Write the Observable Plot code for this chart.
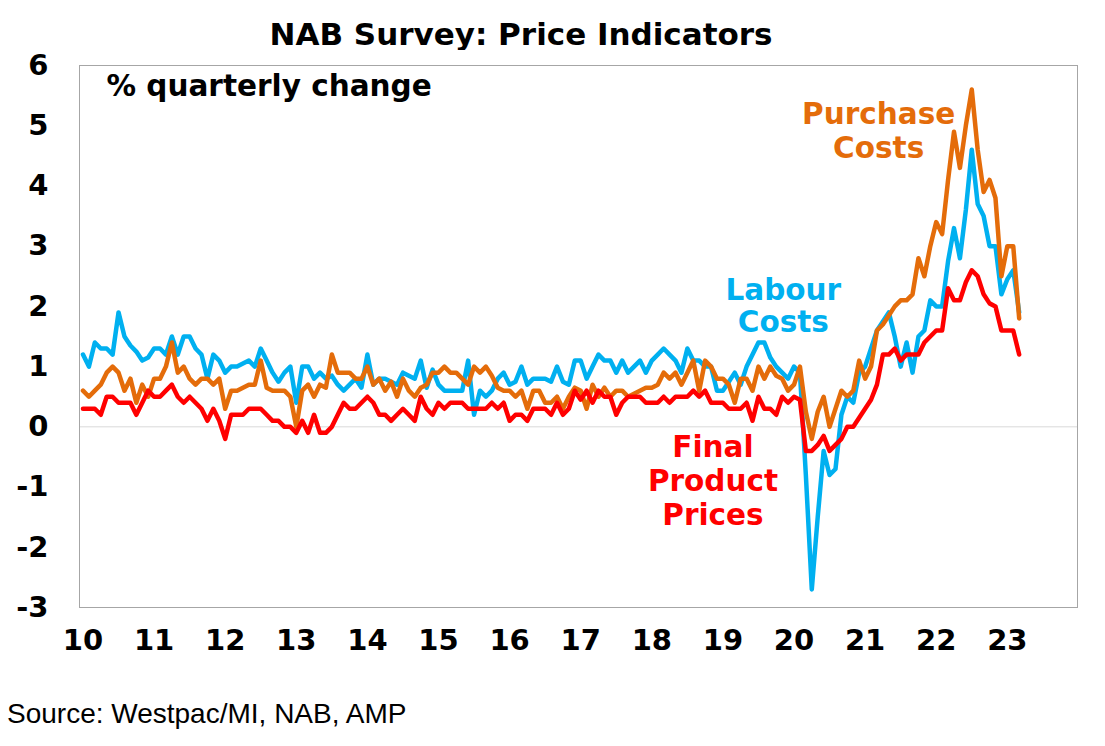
<!DOCTYPE html>
<html>
<head>
<meta charset="utf-8">
<script src="https://cdn.jsdelivr.net/npm/d3@7"></script>
<script src="https://cdn.jsdelivr.net/npm/@observablehq/plot@0.6"></script>
<style>
  body { margin: 0; background: #fff; }
  #wrap { position: relative; width: 1105px; height: 746px; overflow: hidden; background: #fff; }
  #title { position: absolute; left: 0; top: 19px; width: 1042px; text-align: center;
           font: bold 31px/31px "DejaVu Sans", sans-serif; color: #000; white-space: nowrap; }
  #chart { position: absolute; left: 0; top: 50px; }
  #source { position: absolute; left: 7px; top: 700px;
            font: 28px/28px "Liberation Sans", Arial, sans-serif; color: #000; white-space: nowrap; }
</style>
</head>
<body>
<div id="wrap">
  <div id="title">NAB Survey: Price Indicators</div>
  <div id="chart"></div>
  <div id="source">Source: Westpac/MI, NAB, AMP</div>
</div>
<script>
// Monthly readings, first value = January 2010
const startYear = 2010;

const labour = [
  1.2,1.0,1.4,1.3,1.3,1.2,1.9,1.5,1.35,1.25,
  1.1,1.15,1.3,1.3,1.2,1.5,1.2,1.5,1.5,1.3,
  1.2,0.8,1.2,1.1,0.9,1.0,1.0,1.05,1.1,1.0,
  1.3,1.1,0.9,0.75,0.9,1.0,0.4,1.0,1.0,0.8,
  0.9,0.8,0.85,0.7,0.6,0.7,0.8,0.65,1.2,0.7,
  0.8,0.8,0.75,0.7,0.9,0.85,0.8,1.1,0.65,0.95,
  0.7,0.6,0.6,0.6,0.6,1.1,0.2,0.6,0.5,0.6,
  0.8,0.9,0.7,0.75,1.0,0.7,0.8,0.8,0.8,0.75,
  1.0,0.75,0.7,1.1,1.1,0.8,1.0,1.2,1.1,1.1,
  0.9,1.1,0.9,1.0,1.1,0.9,1.1,1.2,1.3,1.2,
  1.1,0.9,1.3,1.1,1.1,1.0,1.0,0.6,0.6,0.75,
  0.9,0.7,1.0,1.2,1.4,1.4,1.15,1.0,0.9,0.8,
  1.0,0.9,-0.8,-2.7,-1.5,-0.4,-0.8,-0.7,0.2,0.5,
  0.4,0.9,1.0,1.3,1.6,1.75,1.9,1.5,1.0,1.4,
  0.9,1.5,1.6,2.1,2.0,2.0,2.75,3.3,2.8,3.6,
  4.6,3.7,3.5,3.0,3.0,2.2,2.45,2.6,1.9
];

const purchase = [
  0.6,0.5,0.6,0.7,0.9,1.0,0.9,0.6,0.8,0.4,
  0.7,0.5,0.8,0.8,1.0,1.4,0.9,1.0,0.8,0.7,
  0.8,0.8,0.7,0.8,0.3,0.6,0.6,0.65,0.7,0.7,
  1.1,0.65,0.6,0.6,0.6,0.5,0.0,0.6,0.7,0.5,
  0.7,0.65,1.2,0.9,0.9,0.9,0.8,0.8,1.0,0.7,
  0.8,0.6,0.75,0.5,0.8,0.6,0.5,0.65,0.7,0.9,
  0.9,1.0,0.9,0.9,0.8,0.7,1.0,0.9,1.0,0.85,
  0.65,0.6,0.6,0.5,0.6,0.3,0.6,0.6,0.4,0.4,
  0.5,0.3,0.5,0.65,0.6,0.3,0.7,0.5,0.65,0.5,
  0.6,0.6,0.5,0.55,0.6,0.65,0.65,0.7,0.9,0.8,
  0.9,0.7,0.9,1.1,0.6,1.1,1.0,0.8,0.8,0.7,
  0.4,0.8,0.8,0.6,1.0,0.8,1.0,0.85,0.8,0.6,
  0.7,1.0,0.25,-0.2,0.25,0.5,0.0,0.3,0.6,0.5,
  0.6,1.1,0.8,1.0,1.6,1.7,1.85,2.0,2.1,2.1,
  2.2,2.8,2.5,3.0,3.4,3.2,4.1,4.9,4.3,5.0,
  5.6,4.6,3.9,4.1,3.8,2.5,3.0,3.0,1.8
];

const finalPrices = [
  0.3,0.3,0.3,0.2,0.5,0.5,0.4,0.4,0.4,0.2,
  0.4,0.6,0.5,0.5,0.6,0.7,0.5,0.4,0.5,0.4,
  0.3,0.1,0.3,0.1,-0.2,0.2,0.2,0.2,0.3,0.3,
  0.3,0.2,0.1,0.1,0.0,0.0,-0.1,0.1,-0.1,0.2,
  -0.1,-0.1,0.0,0.2,0.4,0.3,0.3,0.4,0.5,0.4,
  0.2,0.2,0.1,0.2,0.3,0.2,0.1,0.5,0.3,0.2,
  0.4,0.3,0.4,0.4,0.4,0.3,0.3,0.3,0.3,0.4,
  0.3,0.4,0.1,0.2,0.2,0.1,0.3,0.3,0.3,0.2,
  0.4,0.2,0.3,0.6,0.45,0.6,0.4,0.6,0.5,0.5,
  0.2,0.4,0.5,0.5,0.5,0.4,0.4,0.4,0.5,0.4,
  0.5,0.5,0.5,0.6,0.5,0.6,0.4,0.4,0.4,0.3,
  0.3,0.3,0.4,0.1,0.5,0.3,0.3,0.2,0.5,0.4,
  0.5,0.45,-0.4,-0.4,-0.3,-0.15,-0.4,-0.3,-0.2,0.0,
  0.0,0.15,0.3,0.45,0.7,1.2,1.2,1.3,1.1,1.2,
  1.2,1.2,1.4,1.5,1.6,1.6,2.3,2.1,2.1,2.4,
  2.6,2.5,2.2,2.05,2.0,1.6,1.6,1.6,1.2
];

const seriesNames = ["Labour Costs", "Purchase Costs", "Final Product Prices"];
const seriesColors = ["#00B0F0", "#E46C0A", "#FF0000"];

const yTicks = [-3, -2, -1, 0, 1, 2, 3, 4, 5, 6];
const yTickLabels = ["-3", "-2", "-1", "0", "1", "2", "3", "4", "5", "6"];
const xTickYears = [2010, 2011, 2012, 2013, 2014, 2015, 2016, 2017, 2018, 2019, 2020, 2021, 2022, 2023];
const xTickLabels = ["10", "11", "12", "13", "14", "15", "16", "17", "18", "19", "20", "21", "22", "23"];

// Label anchor points in data coordinates (year, value)
const labelTexts = ["Labour\nCosts", "Purchase\nCosts", "Final\nProduct\nPrices"];
const labelYears = [2019.85, 2021.19, 2018.86];
const labelValues = [2.01, 4.92, -0.885];
const labelLineHeights = [1.08, 1.15, 1.14];

const unitLabel = "% quarterly change";

const rows = [labour, purchase, finalPrices].flatMap((vals, s) =>
  vals.map((v, i) => ({series: seriesNames[s], t: startYear + i / 12, v}))
);

const xLabel = new Map(xTickYears.map((y, i) => [y, xTickLabels[i]]));
const yLabel = new Map(yTicks.map((y, i) => [y, yTickLabels[i]]));

const fontFam = '"DejaVu Sans", sans-serif';

const plot = Plot.plot({
  width: 1105,
  height: 640,
  marginTop: 15,
  marginBottom: 83,
  marginLeft: 79,
  marginRight: 28,
  style: {fontFamily: fontFam, fontWeight: "bold", fontSize: "29px", background: "white", color: "#000", overflow: "visible"},
  x: {domain: [2009.951, 2023.987]},
  y: {domain: [-3, 6]},
  color: {domain: seriesNames, range: seriesColors},
  marks: [
    Plot.ruleY([0], {stroke: "#d9d9d9", strokeWidth: 1}),
    Plot.line(rows, {x: "t", y: "v", z: "series", stroke: "series", strokeWidth: 4.5, strokeLinejoin: "round", strokeLinecap: "round"}),
    Plot.frame({stroke: "#a6a6a6", strokeWidth: 1}),
    Plot.axisY({ticks: yTicks, tickSize: 0, tickPadding: 31, label: null, fontSize: 29, fontWeight: "bold", fill: "#000",
                tickFormat: d => yLabel.get(d)}),
    Plot.axisX({ticks: xTickYears, tickSize: 0, tickPadding: 22, label: null, fontSize: 29, fontWeight: "bold", fill: "#000",
                tickFormat: d => xLabel.get(d)}),
    Plot.text([unitLabel], {text: d => d, frameAnchor: "top-left", dx: 27, dy: 21, textAnchor: "start", lineAnchor: "middle",
                fontSize: 29.5, fontWeight: "bold", fill: "#000"}),
    ...labelTexts.map((txt, i) => Plot.text([i], {
      x: j => labelYears[j], y: j => labelValues[j], text: j => labelTexts[j],
      fill: j => seriesNames[j], fontSize: 29.5, fontWeight: "bold",
      textAnchor: "middle", lineAnchor: "middle", lineHeight: labelLineHeights[i]
    }))
  ]
});

document.getElementById("chart").appendChild(plot);
</script>
</body>
</html>
